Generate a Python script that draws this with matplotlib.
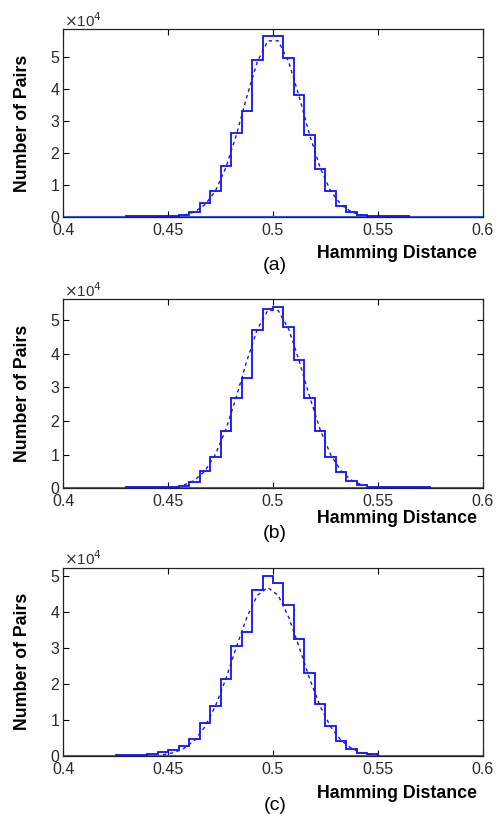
import numpy as np
import matplotlib
matplotlib.use('Agg')
import matplotlib.pyplot as plt

plt.rcParams['font.family'] = ['Liberation Sans', 'DejaVu Sans']

# histogram counts per 0.005 bin, in units of 1e4 pairs
bin_w = 0.005
start_a = 0.430
counts_a = [0.02, 0.02, 0.02, 0.02, 0.03, 0.05, 0.15, 0.43, 0.82, 1.58, 2.64, 3.30, 4.90, 5.65,
            5.65, 4.96, 3.81, 2.57, 1.49, 0.82, 0.35, 0.16, 0.05, 0.02, 0.02, 0.02, 0.02]
start_b = 0.430
counts_b = [0.03, 0.03, 0.03, 0.03, 0.03, 0.07, 0.19, 0.50, 0.92, 1.69, 2.69, 3.27, 4.69, 5.32,
            5.38, 4.78, 3.80, 2.69, 1.69, 0.92, 0.49, 0.21, 0.10, 0.03, 0.03, 0.03, 0.03, 0.03, 0.03]
start_c = 0.425
counts_c = [0.03, 0.03, 0.03, 0.06, 0.11, 0.17, 0.29, 0.47, 0.93, 1.38, 2.14, 3.06, 3.44, 4.61,
            5.00, 4.81, 4.20, 3.25, 2.30, 1.44, 0.83, 0.42, 0.19, 0.09, 0.05]

# fitted curve (dashed), read at bin centres
fit_x_a = [0.4575, 0.4625, 0.4675, 0.4725, 0.4775, 0.4825, 0.4875, 0.4925, 0.4975,
           0.5025, 0.5075, 0.5125, 0.5175, 0.5225, 0.5275, 0.5325, 0.5375, 0.5425]
fit_y_a = [0.056, 0.155, 0.38, 0.81, 1.54, 2.56, 3.76, 4.85, 5.51,
           5.51, 4.85, 3.76, 2.56, 1.54, 0.81, 0.38, 0.155, 0.056]
fit_x_b = fit_x_a
fit_y_b = [0.097, 0.235, 0.51, 1.00, 1.74, 2.71, 3.78, 4.72, 5.28,
           5.28, 4.72, 3.78, 2.71, 1.74, 1.00, 0.51, 0.235, 0.097]
fit_x_c = [0.4475, 0.4525, 0.4575, 0.4625, 0.4675, 0.4725, 0.4775, 0.4825, 0.4875, 0.4925, 0.4975,
           0.5025, 0.5075, 0.5125, 0.5175, 0.5225, 0.5275, 0.5325, 0.5375, 0.5425, 0.5475]
fit_y_c = [0.035, 0.09, 0.21, 0.43, 0.81, 1.38, 2.14, 3.02, 3.85, 4.46, 4.68,
           4.46, 3.85, 3.02, 2.14, 1.38, 0.81, 0.43, 0.21, 0.09, 0.035]

xticks = [0.4, 0.45, 0.5, 0.55, 0.6]
xticklabels = ['0.4', '0.45', '0.5', '0.55', '0.6']
yticks = [0, 1, 2, 3, 4, 5]
panel_labels = ['(a)', '(b)', '(c)']
ytops = [5.87, 5.61, 5.23]

panels = [(start_a, counts_a, fit_x_a, fit_y_a),
          (start_b, counts_b, fit_x_b, fit_y_b),
          (start_c, counts_c, fit_x_c, fit_y_c)]

W, H = 500, 814
fig = plt.figure(figsize=(W / 100, H / 100), dpi=100)

# axes boxes in pixels: top, bottom
boxes = [(29.3, 217.0), (299.3, 488.3), (567.7, 756.0)]
left, right = 63.3, 482.7

for i, (start, counts, fx, fy) in enumerate(panels):
    top, bot = boxes[i]
    ax = fig.add_axes([left / W, 1 - bot / H, (right - left) / W, (bot - top) / H])
    edges = start + bin_w * np.arange(len(counts) + 1)
    ax.axhline(0, color='#3a5cff', lw=1.5, zorder=2)
    ax.stairs(counts, edges, color='#1010ff', lw=1.3, zorder=3)
    ax.plot(fx, fy, color='#1a1ad0', lw=1.0, ls=(0, (2.5, 2.5)), zorder=4)

    ax.set_xlim(0.4, 0.6)
    ax.set_ylim(0, ytops[i])
    ax.set_xticks(xticks)
    ax.set_xticklabels(xticklabels)
    ax.set_yticks(yticks)
    ax.tick_params(direction='in', top=True, right=True, length=4, width=0.8,
                   labelsize=11.5, labelcolor='#2a2a2a', pad=3)
    ax.tick_params(axis='x', pad=4)
    for s in ax.spines.values():
        s.set_linewidth(0.9)
        s.set_color('#222222')

    ax.set_ylabel('Number of Pairs', fontsize=12.8, fontweight='bold')
    ax.yaxis.set_label_coords(-0.078, 0.5)

    # exponent marker
    fig.text(64 / W, 1 - (top - 9) / H, '$\\times$10$^4$', fontsize=11,
             color='#333333', ha='left', va='center')
    # x label and panel letter
    xl_y = [253, 518.3, 793][i]
    fig.text(477 / W, 1 - xl_y / H, 'Hamming Distance', fontsize=12.8,
             fontweight='bold', ha='right', va='center')
    pl_y = [265, 533, 805][i]
    fig.text(275 / W, 1 - pl_y / H, panel_labels[i], fontsize=14,
             ha='center', va='center')

fig.savefig('out.png', dpi=100)
